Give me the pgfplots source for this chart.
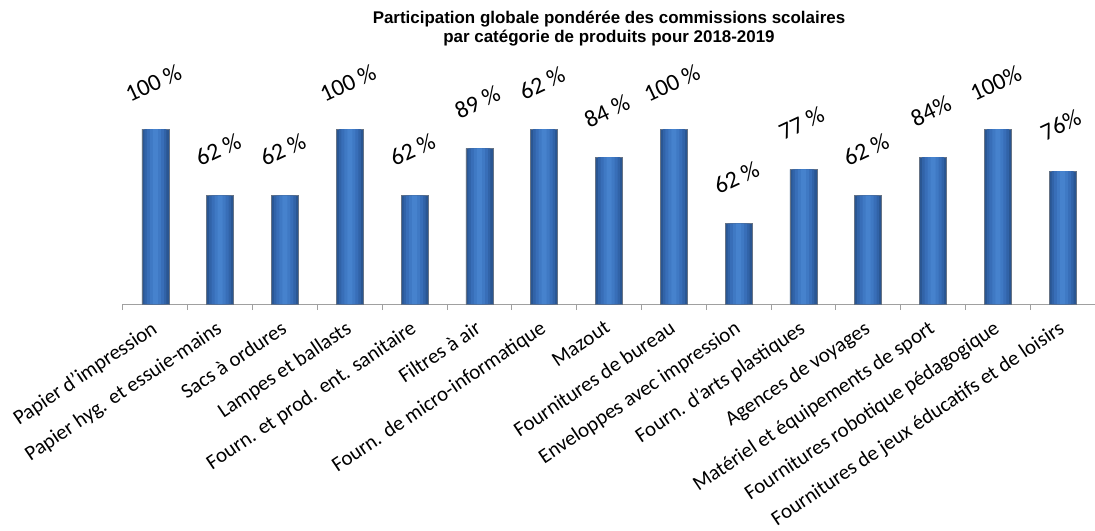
\documentclass[border=0pt]{standalone}
\usepackage{pgfplots}
\pgfplotsset{compat=1.18}
\usepackage{pgfplotstable}
\usepackage{fontspec}
\setmainfont{Carlito}
\newfontfamily\titlefont{Liberation Sans}
\definecolor{barc1}{HTML}{2A5692}
\definecolor{barc2}{HTML}{3163A8}
\definecolor{barc3}{HTML}{386EB8}
\definecolor{barc4}{HTML}{3F79C4}
\definecolor{barc5}{HTML}{4682CD}
\definecolor{axgray}{HTML}{A0A0A0}
\pgfplotstableread[col sep=comma]{
x,y,lab
0,100,100 \%
1,62,62 \%
2,62,62 \%
3,100,100 \%
4,62,62 \%
5,89,89 \%
6,100,62 \%
7,84,84 \%
8,100,100 \%
9,46,62 \%
10,77,77 \%
11,62,62 \%
12,84,84\%
13,100,100\%
14,76,76\%
}\datatable
\begin{document}
\begin{tikzpicture}
\begin{axis}[
  scale only axis, width=972bp, height=175bp,
  xmin=-0.5, xmax=14.5, ymin=0, ymax=100,
  axis x line*=bottom, axis y line=none,
  x axis line style={-, axgray, line width=1bp},
  ybar,
  xtick={0,...,14},
  xticklabels={Papier d'impression, Papier hyg. et essuie-mains, Sacs à ordures, Lampes et ballasts, Fourn. et prod. ent. sanitaire, Filtres à air, Fourn. de micro-informatique, Mazout, Fournitures de bureau, Enveloppes avec impression, Fourn. d'arts plastiques, Agences de voyages, Matériel et équipements de sport, Fournitures robotique pédagogique, Fournitures de jeux éducatifs et de loisirs},
  minor xtick={-0.5,0.5,...,14.5},
  major tick length=0pt, minor tick length=6bp, tick align=outside,
  tick style={axgray, line width=1bp},
  xticklabel style={xshift=-5bp, yshift=-14bp, font=\fontsize{21}{21}\selectfont, rotate=34, anchor=north east, inner sep=1bp},
  clip=false,
]
\addplot[bar width=27bp, bar shift=0pt, fill=barc1, draw=gray!70!barc1, line width=0.6bp]
  table[x=x, y=y] {\datatable};
\addplot[bar width=22bp, bar shift=0pt, fill=barc2, draw=none]
  table[x=x, y=y] {\datatable};
\addplot[bar width=17bp, bar shift=0pt, fill=barc3, draw=none]
  table[x=x, y=y] {\datatable};
\addplot[bar width=11bp, bar shift=0pt, fill=barc4, draw=none]
  table[x=x, y=y] {\datatable};
\addplot[bar width=5bp, bar shift=0pt, fill=barc5, draw=none,
  nodes near coords, point meta=explicit symbolic,
  every node near coord/.style={font=\fontsize{24}{24}\selectfont, text=black, yshift=46bp, xshift=-2bp, rotate=25, anchor=center}]
  table[x=x, y=y, meta=lab] {\datatable};
\end{axis}
\node[anchor=north, align=center, inner sep=0pt, font=\titlefont\bfseries\fontsize{17}{18.5}\selectfont] at ([yshift=118bp]current axis.north) {Participation globale pondérée des commissions scolaires\\par catégorie de produits pour 2018-2019};
\pgfresetboundingbox
\path ([shift={(-123bp,-227bp)}]current axis.south west) rectangle ([shift={(0bp,129bp)}]current axis.north east);
\end{tikzpicture}
\end{document}
